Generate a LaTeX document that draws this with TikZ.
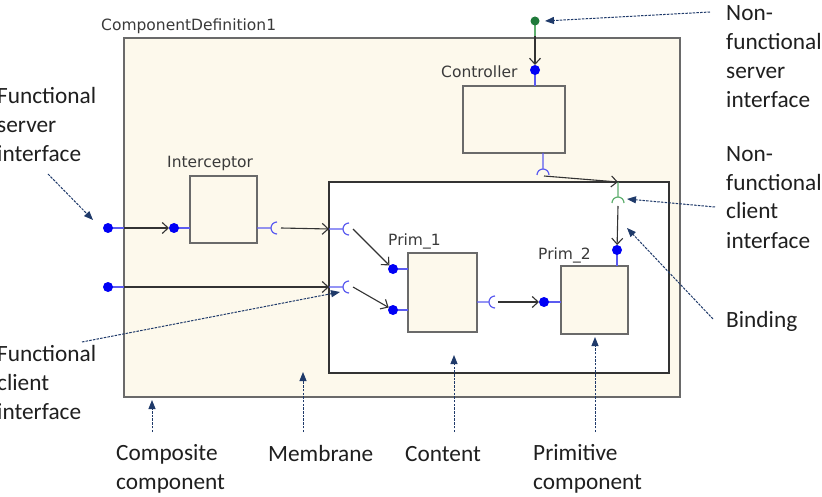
\documentclass[tikz,border=0pt]{standalone}
\usepackage{fontspec}
\setmainfont{Carlito}
\newfontfamily\diagfont{DejaVu Sans}
\usetikzlibrary{arrows.meta}
\definecolor{cream}{HTML}{FDF9EC}
\definecolor{ifblue}{HTML}{5B5BF0}
\definecolor{dotblue}{HTML}{0000F5}
\definecolor{nfgreen}{HTML}{1F7A3A}
\definecolor{linegreen}{HTML}{5FAF6F}
\definecolor{navy}{HTML}{1F3A6A}
\definecolor{boxgray}{HTML}{6A6A6A}
\definecolor{textgray}{HTML}{3A3A3A}
\begin{document}
\begin{tikzpicture}[x=1pt,y=-1pt,
  box/.style={draw=boxgray, line width=1.4pt, fill=cream, inner sep=0pt, outer sep=0pt, anchor=north west, rectangle},
  ifline/.style={draw=ifblue, line width=1.2pt},
  gline/.style={draw=linegreen, line width=1.2pt},
  dot/.style={circle, fill=dotblue, minimum size=10pt, inner sep=0pt, outer sep=0pt},
  gdot/.style={circle, fill=nfgreen, minimum size=9pt, inner sep=0pt, outer sep=0pt},
  conn/.style={draw=black!80, line width=1.1pt, -{Straight Barb[length=6pt,width=11pt]}},
  note/.style={draw=navy, line width=1pt, dash pattern=on 2.5pt off 1.2pt, -{Triangle[length=9pt,width=7pt]}},
  lbl/.style={font=\diagfont\fontsize{15.5}{18}\selectfont, text=textgray, inner sep=0pt, anchor=base west},
  ann/.style={font=\fontsize{23.3}{29}\selectfont, text=black!88, inner sep=0pt, anchor=base west, align=left}
]
\useasboundingbox[fill=white] (0,0) rectangle (822,497);

% boxes
\node[box, minimum width=556pt, minimum height=359pt] (comp) at (124,38) {};
\node[box, fill=white, draw=black!80, minimum width=340pt, minimum height=191pt] (content) at (329,182) {};
\node[box, minimum width=67pt, minimum height=67pt] (icpt) at (190,176) {};
\node[box, minimum width=102pt, minimum height=67pt] (ctrl) at (463,86) {};
\node[box, minimum width=69pt, minimum height=79pt] (prim1) at (408,253) {};
\node[box, minimum width=67pt, minimum height=68pt] (prim2) at (561,266) {};

% labels
\node[lbl] (lcomp) at (101,31) {ComponentDefinition1};
\node[lbl] (licpt) at (167,168) {Interceptor};
\node[lbl] (lctrl) at (441,78) {Controller};
\node[lbl] (lp1) at (388,245) {Prim\_1};
\node[lbl] (lp2) at (538,259) {Prim\_2};

% interface stubs
\draw[ifline] (108,228) -- (124,228);
\draw[ifline] (108,287) -- (124,287);
\draw[ifline] (174,228) -- (190,228);
\draw[ifline] (257,228) -- (271,228) ++(6,-6) arc[start angle=270, end angle=90, radius=6];
\draw[ifline] (329,229) -- (343,229) ++(6,-6) arc[start angle=270, end angle=90, radius=6];
\draw[ifline] (329,287) -- (343,287) ++(6,-6) arc[start angle=270, end angle=90, radius=6];
\draw[ifline] (393,269) -- (408,269);
\draw[ifline] (393,310) -- (408,310);
\draw[ifline] (477,302) -- (489,302) ++(6,-6) arc[start angle=270, end angle=90, radius=6];
\draw[ifline] (544,302) -- (561,302);
\draw[ifline] (617,250) -- (617,266);
\draw[ifline] (535,70) -- (535,86);
\draw[ifline] (543,153) -- (543,169) ++(-6,6) arc[start angle=180, end angle=360, radius=6];
\draw[gline] (535,21) -- (535,36);
\draw[gline] (618,182) -- (618,197) ++(-6,6) arc[start angle=180, end angle=360, radius=6];

% interface dots
\node[dot] (fsOut) at (108,228) {};
\node[dot] (fcOut) at (108,287) {};
\node[dot] (icptS) at (174,228) {};
\node[dot] (p1a) at (393,269) {};
\node[dot] (p1b) at (393,310) {};
\node[dot] (p2s) at (544,302) {};
\node[dot] (p2nf) at (617,250) {};
\node[dot] (ctrlS) at (535,70) {};
\node[gdot] (nfsOut) at (535,21) {};

% binding end points
\coordinate (fsIn) at (124,228);
\coordinate (fcIn) at (124,287);
\coordinate (recIcpt) at (281,228);
\coordinate (c1edge) at (329,229);
\coordinate (c2edge) at (329,287);
\coordinate (recC1) at (353,229);
\coordinate (recC2) at (353,287);
\coordinate (recP1) at (498,302);
\coordinate (gEnd) at (535,36);
\coordinate (recCtrl) at (544,176);
\coordinate (nfcTop) at (618,182);
\coordinate (recNF) at (618,206);

% bindings
\draw[conn] (fsIn) -- (icptS);
\draw[conn] (recIcpt) -- (c1edge);
\draw[conn] (fcIn) -- (c2edge);
\draw[conn] (recC1) -- (p1a);
\draw[conn] (recC2) -- (p1b);
\draw[conn] (recP1) -- (p2s);
\draw[conn] (gEnd) -- (ctrlS);
\draw[conn] (recCtrl) -- (nfcTop);
\draw[conn] (recNF) -- (p2nf);

% annotations (anchor = baseline of last line)
\node[ann] (tFS) at (-3,162) {Functional\\server\\interface};
\node[ann] (tFC) at (-3,419) {Functional\\client\\interface};
\node[ann] (tNFS) at (726,108) {Non-\\functional\\server\\interface};
\node[ann] (tNFC) at (726,248) {Non-\\functional\\client\\interface};
\node[ann] (tB) at (726,327) {Binding};
\node[ann] (tCC) at (116,489) {Composite\\component};
\node[ann] (tM) at (268,461) {Membrane};
\node[ann] (tC) at (405,461) {Content};
\node[ann] (tPC) at (533,489) {Primitive\\component};

\coordinate (aFS) at (48,174);   \coordinate (hFS) at (93,220);
\coordinate (aFC) at (82,342);   \coordinate (hFC) at (340,292);
\coordinate (aNFS) at (710,12);  \coordinate (hNFS) at (545,21);
\coordinate (aNFC) at (715,207); \coordinate (hNFC) at (627,199);
\coordinate (aB) at (713,319);   \coordinate (hB) at (627,228);
\coordinate (aCC) at (152,432);  \coordinate (hCC) at (152,400);
\coordinate (aM) at (303,432);   \coordinate (hM) at (303,372);
\coordinate (aC) at (454,432);   \coordinate (hC) at (454,355);
\coordinate (aPC) at (595,432);  \coordinate (hPC) at (595,337);

\draw[note] (aFS) -- (hFS);
\draw[note] (aFC) -- (hFC);
\draw[note] (aNFS) -- (hNFS);
\draw[note] (aNFC) -- (hNFC);
\draw[note] (aB) -- (hB);
\draw[note] (aCC) -- (hCC);
\draw[note] (aM) -- (hM);
\draw[note] (aC) -- (hC);
\draw[note] (aPC) -- (hPC);
\end{tikzpicture}
\end{document}
